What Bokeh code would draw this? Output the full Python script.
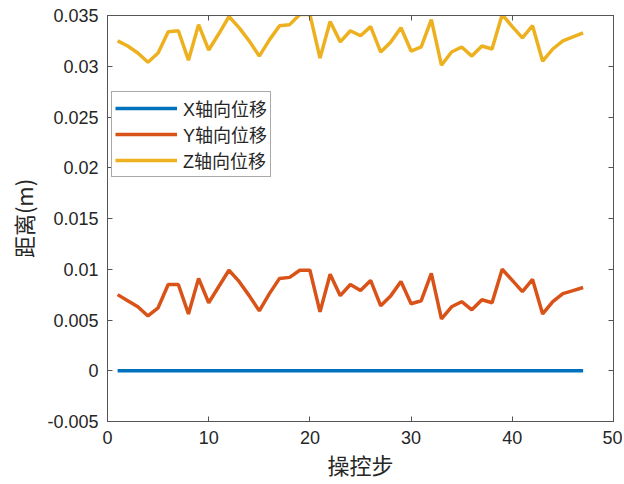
from bokeh.plotting import figure
from bokeh.models import (LinearAxis, FixedTicker, CustomJSTickFormatter, Range1d, Legend, LegendItem)
from bokeh.embed import file_html
from bokeh.resources import INLINE

steps = list(range(1, 48))
x_disp = [0.0] * 47
y_disp = [0.0075, 0.0069, 0.0063, 0.0054, 0.0062, 0.0085, 0.0085, 0.0056, 0.0091, 0.0067,
          0.0083, 0.0099, 0.0088, 0.0074, 0.0059, 0.0076, 0.0091, 0.0092, 0.0099, 0.0099,
          0.0058, 0.0095, 0.0074, 0.0085, 0.0079, 0.0089, 0.0064, 0.0074, 0.0088, 0.0066,
          0.0069, 0.0096, 0.0051, 0.0063, 0.0068, 0.0060, 0.0070, 0.0067, 0.0100, 0.0089,
          0.0078, 0.0090, 0.0056, 0.0068, 0.0076, 0.0079, 0.0082]
z_disp = [0.0325, 0.0320, 0.0313, 0.0304, 0.0313, 0.0334, 0.0335, 0.0306, 0.0341, 0.0316,
          0.0332, 0.0349, 0.0338, 0.0325, 0.0310, 0.0326, 0.0340, 0.0341, 0.0351, 0.0351,
          0.0308, 0.0344, 0.0324, 0.0335, 0.0330, 0.0339, 0.0314, 0.0324, 0.0338, 0.0315,
          0.0319, 0.0346, 0.0301, 0.0314, 0.0319, 0.0310, 0.0320, 0.0317, 0.0351, 0.0339,
          0.0328, 0.0340, 0.0305, 0.0317, 0.0325, 0.0329, 0.0333]
series_names = ["X轴向位移", "Y轴向位移", "Z轴向位移"]
series_colors = ["#0072BD", "#D95319", "#EDB120"]
x_ticks = [0, 10, 20, 30, 40, 50]
y_ticks = [-0.005, 0, 0.005, 0.01, 0.015, 0.02, 0.025, 0.03, 0.035]

AX = "#555555"
p = figure(width=622, height=484, output_backend="svg", toolbar_location=None,
           x_range=Range1d(0, 50), y_range=Range1d(-0.005, 0.035),
           min_border_left=107, min_border_right=9, min_border_top=15, min_border_bottom=63)
p.grid.visible = False
p.outline_line_color = AX
p.outline_line_width = 1
p.background_fill_color = "white"
p.border_fill_color = "white"

p.xaxis.ticker = FixedTicker(ticks=x_ticks)
p.yaxis.ticker = FixedTicker(ticks=y_ticks)
p.yaxis.formatter = CustomJSTickFormatter(code="""
var s = tick.toFixed(3); s = s.replace(/0+$/, ''); s = s.replace(/\\.$/, ''); if (s == '-0') s = '0'; return s;""")
for ax in [p.xaxis[0], p.yaxis[0]]:
    ax.major_tick_in = 5
    ax.major_tick_out = 0
    ax.minor_tick_in = 0
    ax.minor_tick_out = 0
    ax.axis_line_color = AX
    ax.major_tick_line_color = AX
    ax.major_label_text_font = "Liberation Sans"
    ax.major_label_text_font_size = "18px"
    ax.major_label_text_color = "#262626"
    ax.axis_label_text_font = "Noto Sans CJK SC"
    ax.axis_label_text_font_size = "22px"
    ax.axis_label_text_font_style = "normal"
    ax.axis_label_text_color = "#262626"
p.xaxis.major_label_standoff = 9
p.yaxis.major_label_standoff = 9
p.xaxis.axis_label = "操控步"
p.yaxis.axis_label = "距离(m)"
p.xaxis.axis_label_standoff = 1
p.yaxis.axis_label_standoff = 5

for loc, tk in [("above", x_ticks), ("right", y_ticks)]:
    a = LinearAxis(ticker=FixedTicker(ticks=tk),
                   formatter=CustomJSTickFormatter(code="return '';"),
                   major_label_text_font_size="18px",
                   major_tick_in=5, major_tick_out=0, minor_tick_in=0, minor_tick_out=0,
                   axis_line_color=AX, major_tick_line_color=AX, major_label_standoff=0)
    p.add_layout(a, loc)

renderers = []
for vals, c in zip([x_disp, y_disp, z_disp], series_colors):
    r = p.line(steps, vals, line_color=c, line_width=3.5)
    renderers.append(r)

legend = Legend(items=[LegendItem(label=n, renderers=[r]) for n, r in zip(series_names, renderers)],
                location=(4, 244), label_text_font="Liberation Sans, Noto Sans CJK SC",
                label_text_font_size="18px", label_text_color="#262626",
                label_text_line_height=1.0,
                glyph_width=62, glyph_height=20, label_height=20, spacing=-4,
                padding=3, margin=0, label_standoff=6,
                border_line_color=AX, border_line_width=1, background_fill_alpha=1)
p.add_layout(legend, "center")

open("out.html", "w").write(file_html(p, INLINE))
